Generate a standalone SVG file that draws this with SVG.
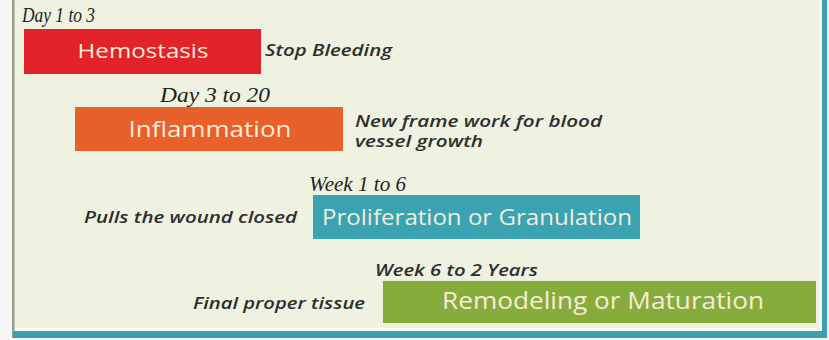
<svg xmlns="http://www.w3.org/2000/svg" width="829" height="340" viewBox="0 0 829 340">
<style>
.box-t{font-family:"Open Sans","Liberation Sans",sans-serif;fill:#f4ecd9;}
.note{font-family:"Open Sans","Liberation Sans",sans-serif;font-style:italic;font-weight:600;fill:#2e2e2e;}
.dur{font-family:"Liberation Serif","DejaVu Serif",serif;font-style:italic;fill:#222;}
</style>
<rect x="0" y="0" width="829" height="340" fill="#f6f6f4"/>
<rect x="13" y="0" width="814" height="338" fill="#eff2e0"/>
<rect x="12" y="0" width="2.5" height="338" fill="#9a9c92"/>
<rect x="15" y="328" width="807" height="2" fill="#fbfbf4"/>
<rect x="819" y="0" width="2" height="330" fill="#fbfbf4"/>
<rect x="13" y="331" width="814" height="7" fill="#3a9fae"/>
<rect x="822" y="0" width="5" height="338" fill="#3a9fae"/>

<g id="hemostasis">
<text class="dur" x="22" y="22" font-size="20" textLength="73" lengthAdjust="spacingAndGlyphs">Day 1 to 3</text>
<rect x="24" y="29" width="237" height="45" fill="#e2232a"/>
<text class="box-t" x="143" y="58" font-size="20" text-anchor="middle" textLength="131" lengthAdjust="spacingAndGlyphs">Hemostasis</text>
<text class="note" x="265" y="56" font-size="16" textLength="127" lengthAdjust="spacingAndGlyphs">Stop Bleeding</text>
</g>

<g id="inflammation">
<text class="dur" x="160" y="102" font-size="20" textLength="110" lengthAdjust="spacingAndGlyphs">Day 3 to 20</text>
<rect x="75" y="107" width="268" height="44" fill="#e8612b"/>
<text class="box-t" x="210" y="137" font-size="22" text-anchor="middle" textLength="163" lengthAdjust="spacingAndGlyphs">Inflammation</text>
<text class="note" x="355" y="127" font-size="16" textLength="247" lengthAdjust="spacingAndGlyphs">New frame work for blood</text>
<text class="note" x="355" y="147" font-size="16" textLength="128" lengthAdjust="spacingAndGlyphs">vessel growth</text>
</g>

<g id="proliferation">
<text class="dur" x="309" y="191" font-size="20" textLength="97" lengthAdjust="spacingAndGlyphs">Week 1 to 6</text>
<rect x="313" y="195" width="327" height="44" fill="#3aa3b1"/>
<text class="box-t" x="477" y="225" font-size="22" text-anchor="middle" textLength="310" lengthAdjust="spacingAndGlyphs">Proliferation or Granulation</text>
<text class="note" x="84" y="223" font-size="16" textLength="213" lengthAdjust="spacingAndGlyphs">Pulls the wound closed</text>
</g>

<g id="remodeling">
<text class="note" x="375" y="276" font-size="16" textLength="163" lengthAdjust="spacingAndGlyphs">Week 6 to 2 Years</text>
<rect x="383" y="281" width="433" height="42" fill="#86ad3c"/>
<text class="box-t" x="603" y="309" font-size="23" text-anchor="middle" textLength="322" lengthAdjust="spacingAndGlyphs">Remodeling or Maturation</text>
<text class="note" x="193" y="309" font-size="16" textLength="172" lengthAdjust="spacingAndGlyphs">Final proper tissue</text>
</g>

<g id="connectors"></g>
</svg>
